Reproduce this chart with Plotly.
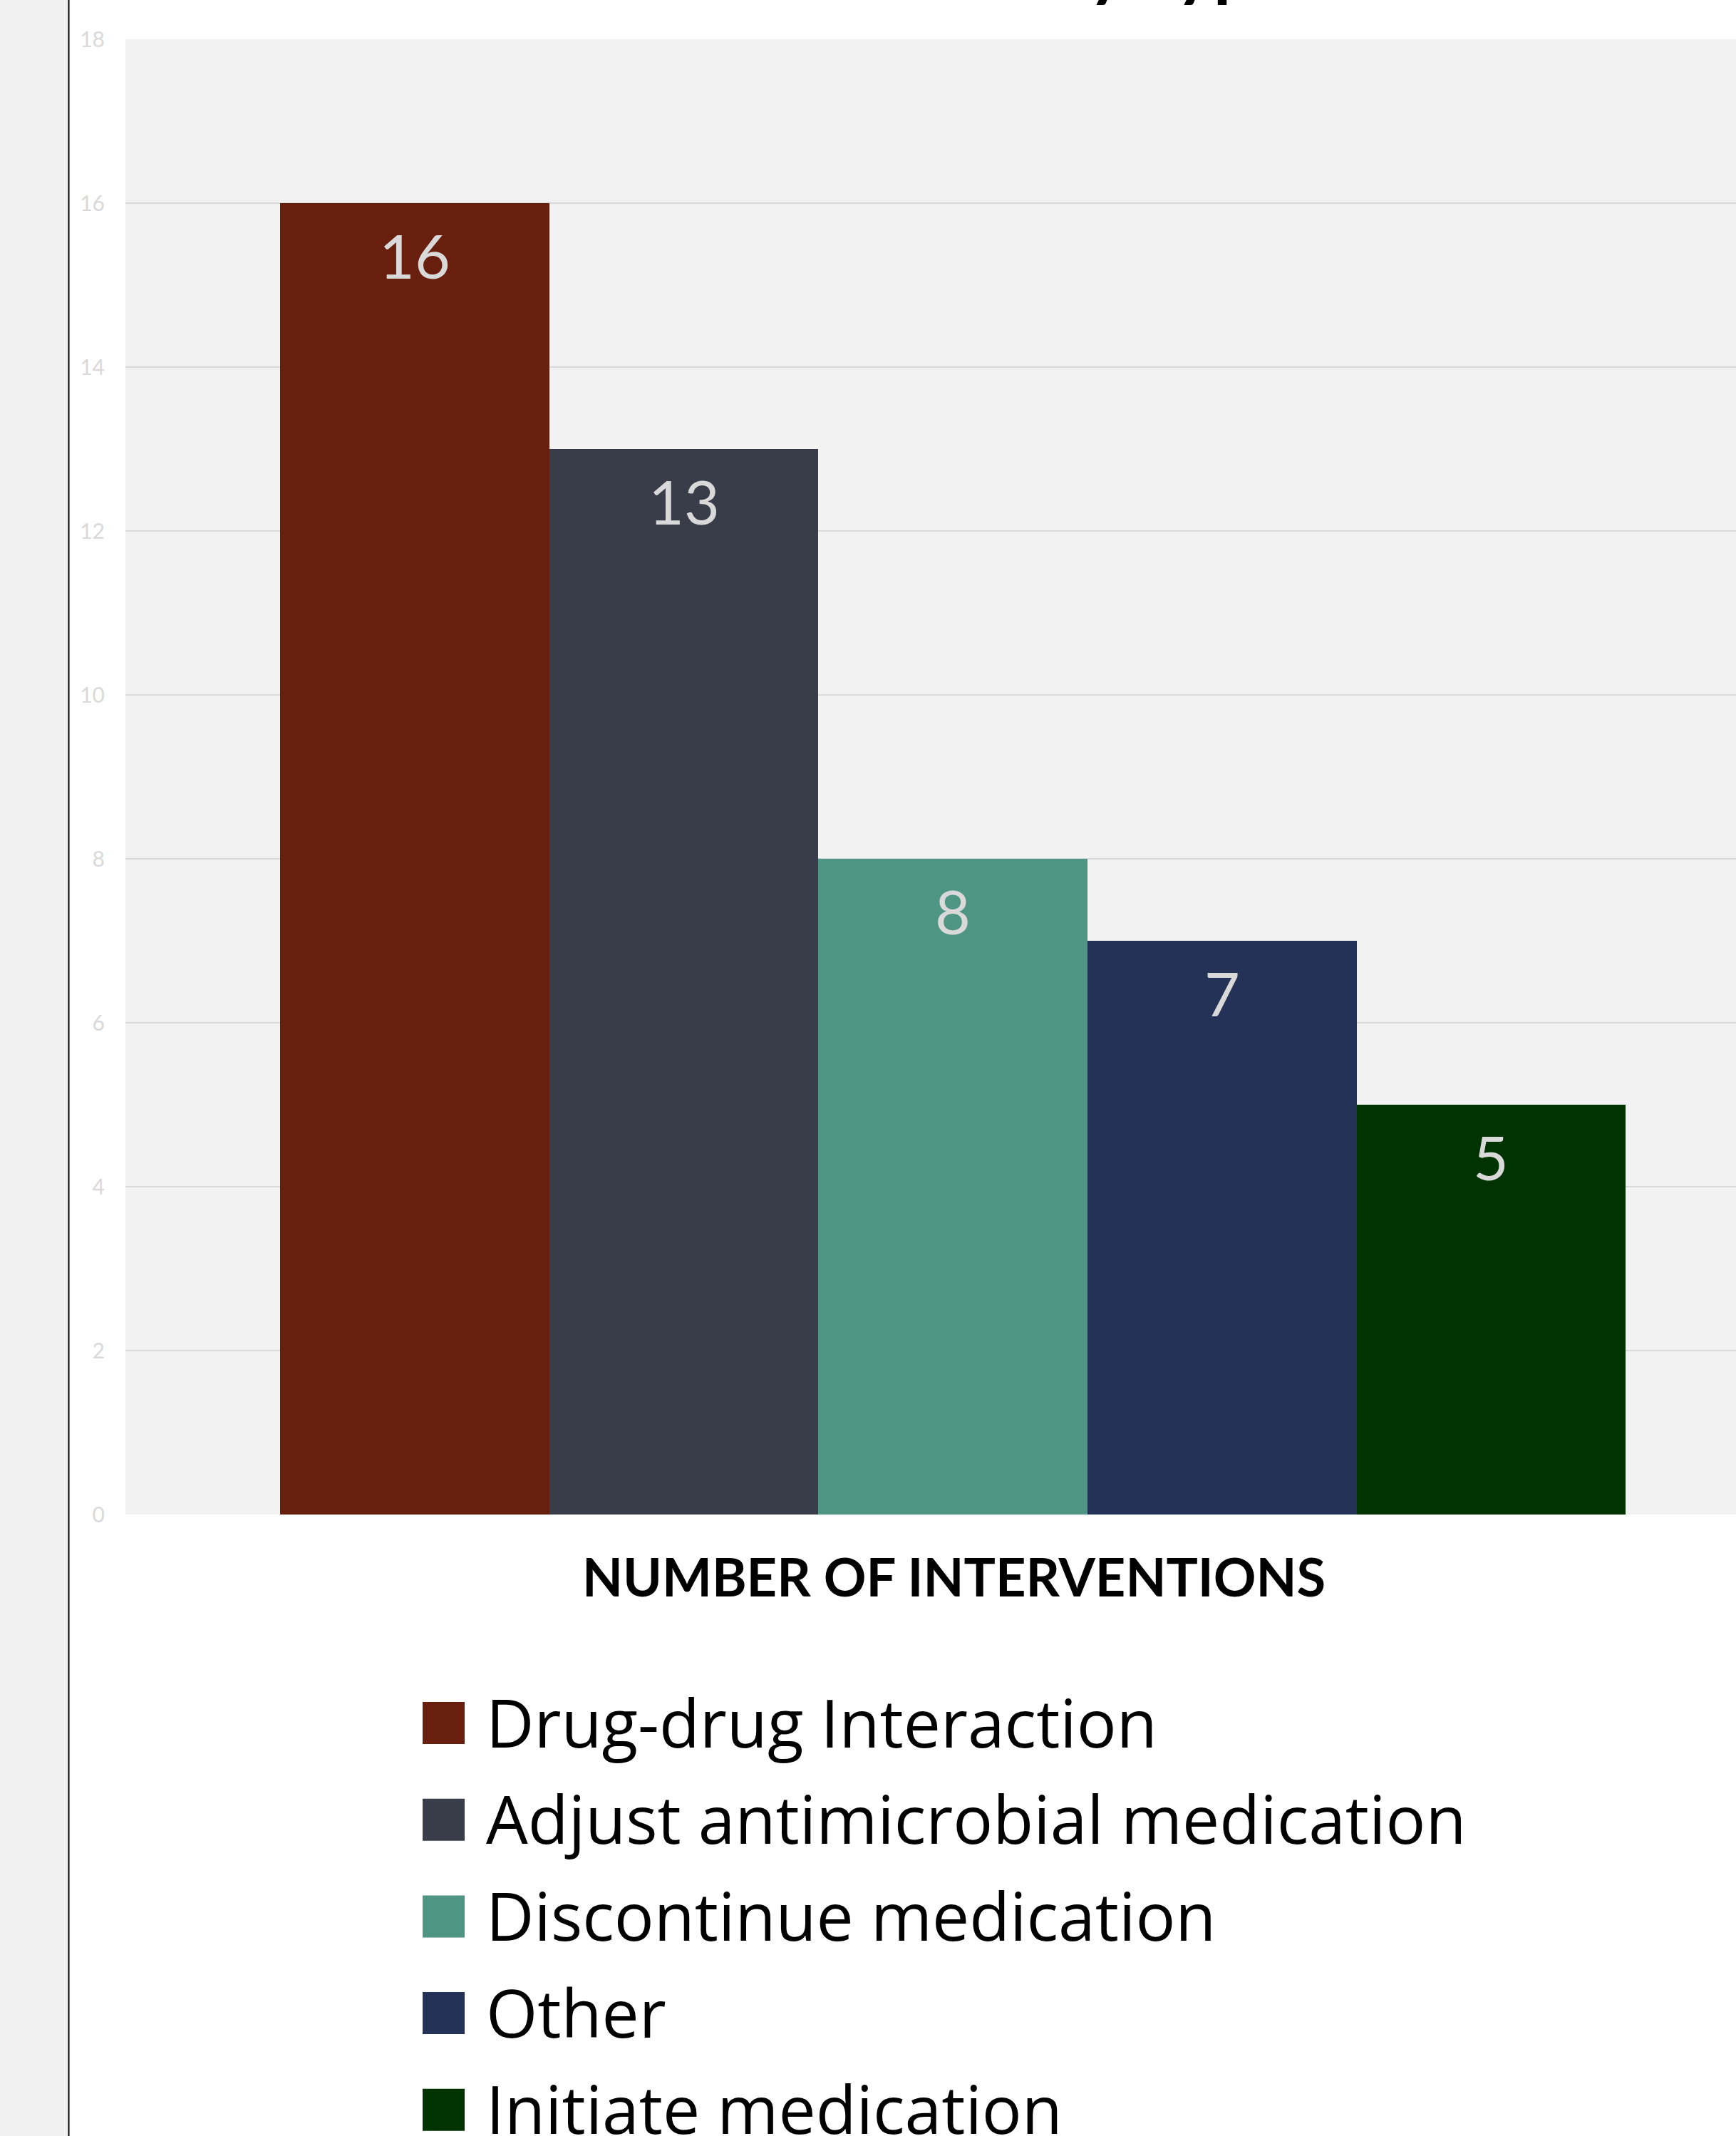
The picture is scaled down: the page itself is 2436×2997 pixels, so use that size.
import plotly.graph_objects as go

# ---- data ----
categories = ["Drug-drug Interaction", "Adjust antimicrobial medication",
              "Discontinue medication", "Other", "Initiate medication"]
values = [16, 13, 8, 7, 5]
colors = ["#681f0e", "#393d4a", "#4f9583", "#243257", "#003300"]
y_ticks = [0, 2, 4, 6, 8, 10, 12, 14, 16, 18]
title_text = "Pharmacist Interventions by Type"
x_title = "NUMBER OF INTERVENTIONS"

# ---- layout geometry (pixels) ----
W, H = 2436, 2997
PL, PR, PT, PB = 176, 2436, 55, 2125
PW, PH = PR - PL, PB - PT
BAR_PX = 377.6
FIRST_CENTER = 582


def xp(X):
    return (X - PL) / PW


def yp(Y):
    return (PB - Y) / PH


FONT = "Lato, Open Sans, sans-serif"
LEG_FONT = "Open Sans, Lato, sans-serif"

fig = go.Figure()
for name, v, c in zip(categories, values, colors):
    fig.add_trace(go.Bar(x=[name], y=[v], name=name, marker=dict(color=c, line=dict(width=0)),
                         showlegend=False))

x0 = -(FIRST_CENTER - PL) / BAR_PX
x1 = x0 + PW / BAR_PX

shapes = [
    # left gray strip and black rule
    dict(type="rect", xref="paper", yref="paper", x0=xp(0), x1=xp(95), y0=yp(H), y1=yp(0),
         fillcolor="#f1f1f1", line=dict(width=0), layer="below"),
    dict(type="line", xref="paper", yref="paper", x0=xp(96.5), x1=xp(96.5), y0=yp(H), y1=yp(0),
         line=dict(color="#000000", width=2)),
]
annotations = []

# data labels
for name, v in zip(categories, values):
    annotations.append(dict(x=name, y=v, xref="x", yref="y", text=str(v), showarrow=False,
                            yanchor="top", yshift=-19,
                            font=dict(family=FONT, size=86, color="#d9d9d9")))

# partially visible title
annotations.append(dict(x=xp(1815), y=yp(13), xref="paper", yref="paper", text="<b>%s</b>" % title_text,
                        showarrow=False, xanchor="right", yanchor="bottom",
                        font=dict(family=FONT, size=100, color="#000000")))

# x axis title
annotations.append(dict(x=xp(1338), y=yp(2211), xref="paper", yref="paper", text="<b>%s</b>" % x_title,
                        showarrow=False, xanchor="center", yanchor="middle",
                        font=dict(family=FONT, size=74, color="#000000")))

# manual legend
ROW0, ROWSTEP = 2417.5, 135.7
for i, (name, c) in enumerate(zip(categories, colors)):
    cy = ROW0 + i * ROWSTEP
    shapes.append(dict(type="rect", xref="paper", yref="paper", x0=xp(593), x1=xp(652),
                       y0=yp(cy + 29.5), y1=yp(cy - 29.5), fillcolor=c, line=dict(width=0)))
    annotations.append(dict(x=xp(680), y=yp(cy - 2), xref="paper", yref="paper", text=name,
                            showarrow=False, xanchor="left", yanchor="middle",
                            font=dict(family=LEG_FONT, size=93, color="#000000")))

fig.update_layout(
    width=W, height=H,
    margin=dict(l=PL, r=W - PR, t=PT, b=H - PB, pad=0),
    paper_bgcolor="#ffffff", plot_bgcolor="#f2f2f2",
    barmode="overlay", bargap=0,
    showlegend=False,
    shapes=shapes, annotations=annotations,
    xaxis=dict(range=[x0, x1], showticklabels=False, showgrid=False, zeroline=False,
               showline=False, ticks=""),
    yaxis=dict(range=[0, 18], tickvals=y_ticks, showgrid=True, gridcolor="#d9d9d9", gridwidth=2,
               zeroline=False, showline=False, ticks="", ticklabelstandoff=28,
               tickfont=dict(family=FONT, size=30, color="#d9d9d9")),
)

fig.write_html("out.html")
